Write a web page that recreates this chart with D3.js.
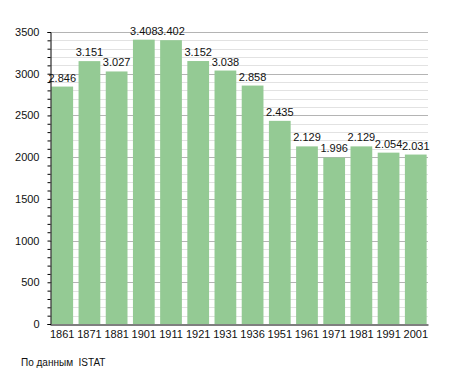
<!DOCTYPE html>
<html>
<head>
<meta charset="utf-8">
<script src="https://cdn.jsdelivr.net/npm/d3@7"></script>
<style>
  body { margin: 0; background: #fff; }
  text { font-family: "Liberation Sans", Arial, sans-serif; }
</style>
</head>
<body>
<div id="chart"></div>
<script>
var categories = ["1861", "1871", "1881", "1901", "1911", "1921", "1931", "1936", "1951", "1961", "1971", "1981", "1991", "2001"];
var population = [2846, 3151, 3027, 3408, 3402, 3152, 3038, 2858, 2435, 2129, 1996, 2129, 2054, 2031];
var majorTicks = [0, 500, 1000, 1500, 2000, 2500, 3000, 3500];
var sourceNote = "По данным  ISTAT";

var width = 455, height = 373;
var mLeft = 50, mRight = 428, mTop = 32, mBottom = 324;

var svg = d3.select("#chart").append("svg")
  .attr("width", width)
  .attr("height", height);

var x = d3.scaleBand()
  .domain(categories)
  .range([mLeft, mRight])
  .paddingInner(0.2)
  .paddingOuter(0.05);

var y = d3.scaleLinear()
  .domain([0, 3500])
  .range([mBottom, mTop]);

var minorTicks = d3.range(0, 3501, 100);

// minor grid
svg.append("g").selectAll("line")
  .data(minorTicks.filter(function (d) { return d % 500 !== 0; }))
  .enter().append("line")
  .attr("x1", mLeft).attr("x2", mRight)
  .attr("y1", function (d) { return Math.round(y(d)) + 0.5; })
  .attr("y2", function (d) { return Math.round(y(d)) + 0.5; })
  .attr("stroke", "#e2e2e2")
  .attr("stroke-width", 1);

// major grid
svg.append("g").selectAll("line")
  .data(majorTicks.filter(function (d) { return d > 0; }))
  .enter().append("line")
  .attr("x1", mLeft).attr("x2", mRight)
  .attr("y1", function (d) { return Math.round(y(d)) + 0.5; })
  .attr("y2", function (d) { return Math.round(y(d)) + 0.5; })
  .attr("stroke", "#b4b4b4")
  .attr("stroke-width", 1);

// bars
svg.append("g").selectAll("rect")
  .data(population)
  .enter().append("rect")
  .attr("x", function (d, i) { return x(categories[i]); })
  .attr("width", x.bandwidth())
  .attr("y", function (d) { return y(d); })
  .attr("height", function (d) { return mBottom - y(d); })
  .attr("fill", "#94ca94");

// value labels
svg.append("g").selectAll("text")
  .data(population)
  .enter().append("text")
  .attr("x", function (d, i) { return x(categories[i]) + x.bandwidth() / 2; })
  .attr("y", function (d) { return y(d) - 5; })
  .attr("text-anchor", "middle")
  .attr("font-size", 11)
  .attr("fill", "#111")
  .text(function (d) { return d3.format(",")(d).replace(",", "."); });

// y axis
var yAxis = d3.axisLeft(y)
  .tickValues(minorTicks)
  .tickSize(3)
  .tickFormat(function (d) { return d % 500 === 0 ? d : ""; });

var gy = svg.append("g")
  .attr("transform", "translate(" + (mLeft + 0.5) + ",0)")
  .call(yAxis);
gy.select(".domain").attr("stroke", "#000");
gy.selectAll(".tick line").attr("stroke", "#000");
gy.selectAll("text")
  .attr("font-size", 11)
  .attr("font-family", "Liberation Sans, Arial, sans-serif")
  .attr("fill", "#111")
  .attr("x", -11);

// x axis
var xAxis = d3.axisBottom(x).tickSize(0).tickPadding(6);
var gx = svg.append("g")
  .attr("transform", "translate(0," + (mBottom + 0.5) + ")")
  .call(xAxis);
gx.select(".domain").attr("stroke", "#000").attr("stroke-width", 1.2);
gx.selectAll("text")
  .attr("font-size", 11)
  .attr("font-family", "Liberation Sans, Arial, sans-serif")
  .attr("fill", "#111");

svg.append("text")
  .attr("x", 21)
  .attr("y", 366)
  .attr("font-size", 10)
  .attr("fill", "#111")
  .attr("xml:space", "preserve")
  .text(sourceNote);
</script>
</body>
</html>
